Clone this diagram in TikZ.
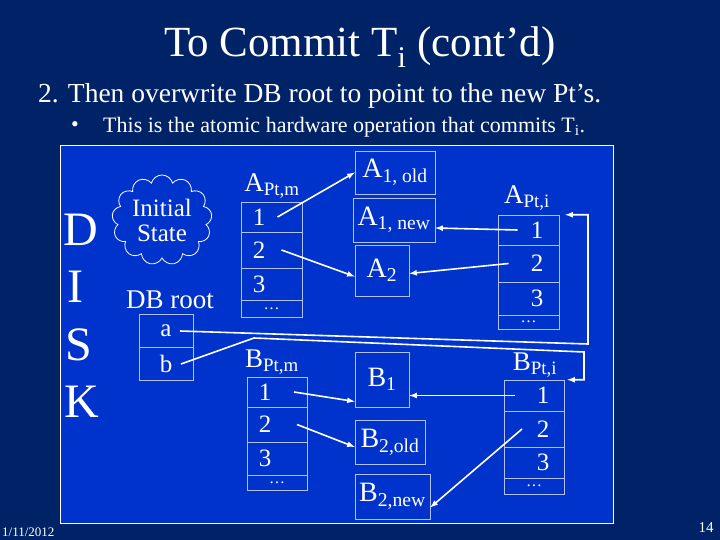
\documentclass[tikz,border=0pt]{standalone}
\usepackage{fontspec}
\setmainfont{Liberation Serif}
\usetikzlibrary{shapes.symbols}
\definecolor{slidebg}{RGB}{0,34,102}
\definecolor{panelbg}{RGB}{0,51,204}
\newcommand{\fs}[1]{\fontsize{#1}{#1}\selectfont}
\begin{document}
\begin{tikzpicture}[x=1pt, y=-1pt, white,
  cell/.style={draw=white!70!panelbg, line width=0.5pt, inner sep=0pt, text=white},
  celltext/.style={text=white, inner sep=0pt, font=\fs{25}},
  ptr/.style={draw=white, line width=1.6pt, -latex},
  lbl/.style={text=white, inner sep=0pt, font=\fs{27}}]
  \fill[slidebg] (0,0) rectangle (720,540);
  \useasboundingbox (0,0) rectangle (720,540);
  \draw[fill=panelbg, draw=white, line width=0.8pt] (60,145) rectangle (613,523);

  % titles
  \node[lbl, font=\fs{43}] (title) at (360,47) {To Commit T\textsubscript{i} (cont’d)};
  \node[lbl, font=\fs{27.5}, anchor=west] (sub) at (38,96) {2. Then overwrite DB root to point to the new Pt’s.};
  \node[lbl, font=\fs{22}] (bul) at (75,127) {•};
  \node[lbl, font=\fs{22}, anchor=west] (bultext) at (103,127) {This is the atomic hardware operation that commits T\textsubscript{i}.};
  \node[lbl, font=\fs{13}, anchor=west] (date) at (2,532) {1/11/2012};
  \node[lbl, font=\fs{15}] (pg) at (706,528) {14};

  % DISK
  \node[lbl, font=\fs{48}] (d) at (81,230) {D};
  \node[lbl, font=\fs{48}] (i) at (75,287) {I};
  \node[lbl, font=\fs{48}] (s) at (79,345) {S};
  \node[lbl, font=\fs{48}] (k) at (82,402) {K};

  % cloud
  \node[cloud, draw=white, line width=0.8pt, cloud puffs=13, aspect=1.1,
        minimum width=100pt, minimum height=86pt, inner sep=0pt, text=white,
        align=center, font=\fs{25}] (init) at (162,220) {Initial\\State};

  % DB root
  \node[lbl] (rootlbl) at (170,300) {DB root};
  \node[cell, minimum width=54pt, minimum height=33pt, font=\fs{25}] (ra) at (166,331) {a};
  \node[cell, minimum width=54pt, minimum height=33pt, font=\fs{25}] (rb) at (166,364) {b};

  % A Pt,m
  \node[lbl] (apmlbl) at (272,186) {A\textsubscript{Pt,m}};
  \node[cell, minimum width=61pt, minimum height=30pt] (am1) at (271.5,217) {};
  \node[cell, minimum width=61pt, minimum height=36pt] (am2) at (271.5,250) {};
  \node[cell, minimum width=61pt, minimum height=32pt] (am3) at (271.5,284) {};
  \node[cell, minimum width=61pt, minimum height=17pt, font=\fs{16}] (am4) at (271.5,308.5) {…};
  \node[celltext] at (259,217) {1};
  \node[celltext] at (259,250) {2};
  \node[celltext] at (259,284) {3};

  % A blocks
  \node[cell, minimum width=80pt, minimum height=43pt, font=\fs{28}] (a1old) at (395,172.5) {A\textsubscript{1, old}};
  \node[cell, minimum width=82pt, minimum height=44pt, font=\fs{28}] (a1new) at (394,220) {A\textsubscript{1, new}};
  \node[cell, minimum width=54pt, minimum height=51pt, font=\fs{28}] (a2) at (382,270.5) {A\textsubscript{2}};

  % A Pt,i
  \node[lbl] (apilbl) at (527,198) {A\textsubscript{Pt,i}};
  \node[cell, minimum width=61pt, minimum height=30pt] (ai1) at (528.5,230) {};
  \node[cell, minimum width=61pt, minimum height=37pt] (ai2) at (528.5,263.5) {};
  \node[cell, minimum width=61pt, minimum height=33pt] (ai3) at (528.5,298.5) {};
  \node[cell, minimum width=61pt, minimum height=14pt, font=\fs{16}] (ai4) at (528.5,322) {…};
  \node[celltext] at (537,230) {1};
  \node[celltext] at (537,263.5) {2};
  \node[celltext] at (537,298.5) {3};

  % B Pt,m
  \node[lbl] (bpmlbl) at (272,362) {B\textsubscript{Pt,m}};
  \node[cell, minimum width=60pt, minimum height=30pt] (bm1) at (277,392) {};
  \node[cell, minimum width=60pt, minimum height=35pt] (bm2) at (277,424.5) {};
  \node[cell, minimum width=60pt, minimum height=33pt] (bm3) at (277,458.5) {};
  \node[cell, minimum width=60pt, minimum height=15pt, font=\fs{16}] (bm4) at (277,482.5) {…};
  \node[celltext] at (265,392) {1};
  \node[celltext] at (265,424.5) {2};
  \node[celltext] at (265,458.5) {3};

  % B blocks
  \node[cell, minimum width=54pt, minimum height=55pt, font=\fs{28}] (b1) at (382,379.5) {B\textsubscript{1}};
  \node[cell, minimum width=70pt, minimum height=44pt, font=\fs{28}] (b2old) at (390,442) {B\textsubscript{2,old}};
  \node[cell, minimum width=75pt, minimum height=45pt, font=\fs{28}] (b2new) at (392.5,496.5) {B\textsubscript{2,new}};

  % B Pt,i
  \node[lbl] (bpilbl) at (535,365) {B\textsubscript{Pt,i}};
  \node[cell, minimum width=60pt, minimum height=31pt] (bi1) at (534,395.5) {};
  \node[cell, minimum width=60pt, minimum height=36pt] (bi2) at (534,429) {};
  \node[cell, minimum width=60pt, minimum height=31pt] (bi3) at (534,462.5) {};
  \node[cell, minimum width=60pt, minimum height=16pt, font=\fs{16}] (bi4) at (534,486) {…};
  \node[celltext] at (543,395.5) {1};
  \node[celltext] at (543,429) {2};
  \node[celltext] at (543,462.5) {3};

  % pointers
  \draw[ptr] ([xshift=6pt]am1.center) -- (a1old.west);
  \draw[ptr] ([xshift=10pt]am2.center) -- ([yshift=-6pt]a2.west);
  \draw[ptr] ([xshift=-11pt]ai1.center) -- ([yshift=-8pt]a1new.east);
  \draw[ptr] ([xshift=-20pt]ai2.center) -- ([yshift=-3pt]a2.east);
  \draw[ptr] ([xshift=17pt]bm1.center) -- ([yshift=-22pt]b1.west);
  \draw[ptr] ([xshift=20pt]bm2.center) -- ([yshift=-5pt]b2old.west);
  \draw[ptr] ([xshift=-19pt]bi1.center) -- ([yshift=-16pt]b1.east);
  \draw[ptr] ([xshift=-12pt]bi2.center) -- ([yshift=-11pt]b2new.east);
  \coordinate (aturn) at (588,344);
  \coordinate (bbend) at (254,338);
  \coordinate (bturn) at (584,352);
  \draw[ptr] ([xshift=14pt]ra.center) -- (aturn) -- (aturn |- ai1.north east) -- ([xshift=6pt]ai1.north east);
  \draw[ptr] ([xshift=15pt]rb.center) -- (bbend) -- (bturn) -- (bturn |- bi1.north east) -- ([xshift=3pt]bi1.north east);
\end{tikzpicture}
\end{document}
